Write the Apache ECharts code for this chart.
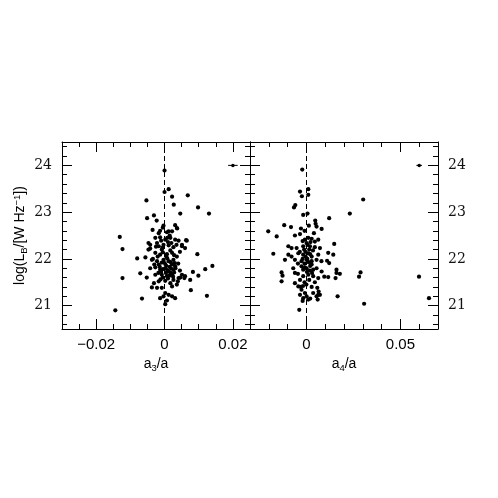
<!DOCTYPE html>
<html>
<head>
<meta charset="utf-8">
<script src="https://cdn.jsdelivr.net/npm/echarts@6/dist/echarts.min.js"></script>
<style>html,body{margin:0;padding:0;background:#fff}#c{width:498px;height:498px}</style>
</head>
<body>
<div id="c"></div>
<script>
// ---- data ----
const a3Ticks = [-0.02, 0, 0.02];
const a3TickLabels = ['\u22120.02', '0', '0.02'];
const a4Ticks = [0, 0.05];
const a4TickLabels = ['0', '0.05'];
const logLTicks = [21, 22, 23, 24];
const logLTickLabels = ['21', '22', '23', '24'];

const a3Range = [-0.03, 0.025];
const a4Range = [-0.03, 0.07];
const logLRange = [20.5, 24.5];

// [a3/a, log L]
const a3Points = [
[0.0000,23.89],[0.0000,23.43],[0.0012,23.49],[0.0022,23.33],[0.0068,23.36],[-0.0053,23.25],[0.0027,23.16],[0.0098,23.10],
[0.0130,22.97],[0.0046,22.97],[-0.0031,22.93],[-0.0051,22.87],[-0.0023,22.82],[-0.0003,22.71],[0.0031,22.72],[0.0037,22.65],
[-0.0035,22.62],[-0.0131,22.47],[-0.0123,22.21],[0.0096,22.10],[-0.0080,22.01],[-0.0056,22.03],[0.0140,21.85],[0.0119,21.78],
[0.0083,21.72],[0.0099,21.64],[-0.0123,21.59],[0.0077,21.33],[0.0124,21.21],[-0.0066,21.15],[0.0002,21.03],[-0.0144,20.90],
[-0.0005,22.67],[0.0036,22.66],[-0.0017,22.55],[0.0007,22.57],[0.0022,22.59],[-0.0013,22.60],[0.0012,22.59],[-0.0027,22.45],
[-0.0013,22.46],[0.0002,22.41],[0.0017,22.45],[0.0031,22.41],[0.0041,22.39],[0.0065,22.39],[-0.0022,22.34],[-0.0047,22.34],
[-0.0042,22.30],[-0.0017,22.27],[-0.0003,22.30],[0.0012,22.29],[0.0026,22.25],[0.0051,22.27],[0.0060,22.23],[-0.0047,22.20],
[-0.0008,22.20],[0.0017,22.18],[-0.0027,22.13],[-0.0013,22.09],[0.0007,22.10],[0.0022,22.13],[0.0036,22.05],
[-0.0037,21.98],[-0.0022,21.95],[-0.0003,21.98],[0.0012,21.95],[0.0026,21.98],[-0.0017,21.88],[0.0002,21.89],[0.0022,21.88],
[-0.0042,21.80],[-0.0027,21.82],[-0.0013,21.77],[0.0002,21.80],[0.0012,21.73],[0.0026,21.77],[0.0031,21.84],[-0.0071,21.69],
[-0.0027,21.66],[-0.0008,21.66],[0.0007,21.63],[0.0022,21.66],[0.0051,21.66],[0.0060,21.63],[-0.0052,21.60],[0.0041,21.59],
[-0.0017,21.52],[0.0002,21.53],[0.0017,21.48],[0.0026,21.55],[0.0075,21.55],[-0.0037,21.39],[-0.0022,21.38],[-0.0008,21.38],
[0.0022,21.41],[0.0036,21.45],[0.0002,21.27],[0.0012,21.23],[-0.0003,21.20],[0.0022,21.20],[0.0031,21.16],[-0.0013,21.16],
[0.0007,21.11],
[0.0005,21.85],[0.0015,21.83],[-0.0008,21.92],[0.0018,21.70],[-0.0010,21.72],[0.0030,21.91],[0.0008,22.01],[-0.0005,21.60],
[0.0025,21.62],[0.0010,22.36],[-0.0010,22.39],[0.0015,22.50],[0.0046,21.60],[0.0063,22.40],[0.0051,22.30],[-0.0042,22.22],
[-0.0031,21.48],[0.0040,21.90],[-0.0020,22.05],[0.0045,22.15],[0.0039,21.52],[0.0058,21.59],
[-0.0005,21.78],[0.0008,21.76],[0.0019,21.79],[-0.0014,21.83],[0.0004,21.70],[0.0014,21.64],[-0.0018,21.70],[0.0028,21.71],
[-0.0002,21.93],[0.0018,21.93],[-0.0030,21.88],[0.0005,22.05],[-0.0005,22.14],[0.0028,22.08],[-0.0034,22.00],[0.0010,21.58],
[-0.0012,21.56],[0.0032,21.80],[0.0045,21.75],[-0.0006,22.24],[0.0020,22.34],[-0.0025,22.26],[0.0035,22.30],[0.0008,22.45]
];

// [a4/a, log L]
const a4Points = [
[-0.0022,23.91],[-0.0034,23.44],[-0.0024,23.34],[0.0010,23.49],[0.0010,23.37],[-0.0059,23.15],[-0.0066,23.10],[0.0302,23.27],
[0.0231,22.97],[-0.0017,22.94],[0.0006,22.97],[0.0121,22.87],[0.0047,22.82],[-0.0118,22.72],[-0.0082,22.68],[-0.0203,22.59],
[-0.0158,22.48],[0.0013,22.71],[0.0054,22.69],[0.0081,22.64],[-0.0029,22.65],[0.0148,22.32],[-0.0176,22.11],[0.0116,22.13],
[0.0143,22.09],[0.0110,21.96],[0.0121,21.91],[0.0160,21.77],[0.0178,21.68],[0.0155,21.59],[0.0116,21.61],[0.0095,21.62],
[-0.0132,21.71],[-0.0127,21.64],[-0.0132,21.52],[0.0288,21.71],[0.0280,21.62],[0.0599,21.62],[0.0166,21.20],[0.0307,21.04],
[0.0652,21.16],[-0.0038,20.91],
[0.0049,22.75],[-0.0061,22.50],[-0.0034,22.53],[-0.0008,22.41],[0.0001,22.34],[0.0010,22.45],[0.0028,22.43],[0.0045,22.37],
[0.0063,22.41],[-0.0096,22.27],[-0.0079,22.23],[-0.0052,22.23],[-0.0017,22.27],[0.0019,22.27],[0.0045,22.25],[0.0072,22.23],
[-0.0096,22.09],[-0.0079,22.05],[-0.0043,22.12],[-0.0017,22.09],[0.0010,22.12],[0.0028,22.05],[0.0063,22.09],[-0.0114,21.98],
[-0.0061,21.98],[-0.0026,21.95],[0.0001,21.98],[0.0028,21.95],[0.0054,21.98],[-0.0070,21.80],[-0.0061,21.70],[-0.0026,21.84],
[-0.0017,21.77],[0.0001,21.80],[0.0028,21.88],[0.0036,21.77],[0.0054,21.80],[0.0081,21.73],[0.0160,21.70],
[-0.0017,21.63],[0.0010,21.66],[0.0036,21.63],[0.0063,21.59],[-0.0034,21.55],[-0.0061,21.48],[-0.0043,21.41],[-0.0026,21.34],
[-0.0008,21.27],[0.0001,21.20],[-0.0034,21.23],[-0.0017,21.16],[0.0036,21.27],[0.0054,21.20],[0.0063,21.23],
[0.0005,22.00],[-0.0010,21.90],[0.0020,21.85],[-0.0005,22.15],[0.0015,22.20],[-0.0020,22.00],[0.0030,21.70],[-0.0010,21.50],
[0.0000,21.45],[0.0045,21.50],[-0.0030,21.40],[-0.0020,21.10],[0.0020,21.15],[0.0065,21.30],[0.0010,21.13],[0.0060,21.13],
[0.0072,21.23],[0.0058,21.38],[-0.0045,21.90],[0.0040,22.55],[-0.0010,22.60],[0.0080,21.95],
[0.0003,21.72],[0.0018,21.75],[-0.0008,21.82],[0.0012,21.93],[-0.0004,22.05],[0.0020,22.10],[-0.0012,22.20],[0.0006,22.30],
[0.0022,22.36],[-0.0020,22.38],[0.0035,22.18],[-0.0035,22.15],[0.0015,21.55],[-0.0018,21.42],[0.0028,21.40],[-0.0045,21.68]
];

// typical error bars: [x, y, half-width in x]
const errorBarA3 = [0.02, 24.0, 0.0014];
const errorBarA4 = [0.06, 24.0, 0.0015];

// ---- helpers ----
function steps(min, max, step, exclude) {
  const out = [];
  const n = Math.round((max - min) / step);
  for (let i = 0; i <= n; i++) {
    const v = +(min + i * step).toFixed(6);
    if (!exclude.some(e => Math.abs(e - v) < 1e-9)) out.push(v);
  }
  return out;
}
function labelFor(ticks, labels) {
  return function (v) {
    const i = ticks.findIndex(t => Math.abs(t - v) < 1e-9);
    return i >= 0 ? labels[i] : '';
  };
}
const INK = '#000';
function axis(kind, gridIndex, position, range, ticks, tickLen, labelOpt, showLine) {
  const a = {
    type: 'value', gridIndex, position, min: range[0], max: range[1],
    splitLine: { show: false },
    axisLine: { show: !!showLine, onZero: false, lineStyle: { color: INK, width: 1 } },
    axisTick: { show: true, inside: true, length: tickLen, customValues: ticks, lineStyle: { color: INK, width: 1 } },
    axisLabel: { show: false },
    axisPointer: { show: false }
  };
  if (labelOpt) a.axisLabel = Object.assign({ show: true, customValues: ticks }, labelOpt);
  return a;
}

const xLabelStyle = { fontFamily: 'Liberation Sans', fontSize: 15, color: '#000', margin: 8 };
const yLabelStyle = { fontFamily: 'DejaVu Serif', fontSize: 14, color: '#111', margin: 10 };
const nameStyle = {
  fontFamily: 'Liberation Sans', fontSize: 14, color: '#000', lineHeight: 17,
  rich: {
    s: { fontFamily: 'Liberation Sans', fontSize: 9.5, color: '#000', verticalAlign: 'bottom', lineHeight: 9 },
    p: { fontFamily: 'Liberation Sans', fontSize: 9.5, color: '#000', verticalAlign: 'top', lineHeight: 9 }
  }
};
const xNameStyle = Object.assign({}, nameStyle, { letterSpacing: 1.5 });

const a3Minor = steps(a3Range[0], a3Range[1], 0.005, a3Ticks);
const a4Minor = steps(a4Range[0], a4Range[1], 0.01, a4Ticks);
const logLMinor = steps(20.6, 24.4, 0.2, logLTicks);

const MAJ = 10, MIN = 5;
const gL = { left: 62, top: 142, width: 188, height: 187 };
const gR = { left: 250, top: 142, width: 188, height: 187 };

const xAxes = [
  Object.assign(axis('x', 0, 'bottom', a3Range, a3Ticks, MAJ,
    Object.assign({ formatter: labelFor(a3Ticks, a3TickLabels) }, xLabelStyle), true),
    { name: 'a{s|3}/a', nameLocation: 'middle', nameGap: 27, nameTextStyle: xNameStyle }),
  axis('x', 0, 'top', a3Range, a3Ticks, MAJ, null, true),
  Object.assign(axis('x', 1, 'bottom', a4Range, a4Ticks, MAJ,
    Object.assign({ formatter: labelFor(a4Ticks, a4TickLabels) }, xLabelStyle), true),
    { name: 'a{s|4}/a', nameLocation: 'middle', nameGap: 27, nameTextStyle: xNameStyle }),
  axis('x', 1, 'top', a4Range, a4Ticks, MAJ, null, true),
  axis('x', 2, 'bottom', a3Range, a3Minor, MIN, null, false),
  axis('x', 2, 'top', a3Range, a3Minor, MIN, null, false),
  axis('x', 3, 'bottom', a4Range, a4Minor, MIN, null, false),
  axis('x', 3, 'top', a4Range, a4Minor, MIN, null, false)
];
const yAxes = [
  Object.assign(axis('y', 0, 'left', logLRange, logLTicks, MAJ,
    Object.assign({ formatter: labelFor(logLTicks, logLTickLabels) }, yLabelStyle), true),
    { name: 'log(L{s|B}/[W Hz{p|\u22121}])', nameLocation: 'middle', nameRotate: 90, nameGap: 33, nameTextStyle: nameStyle }),
  axis('y', 0, 'right', logLRange, logLTicks, MAJ, null, true),
  axis('y', 1, 'left', logLRange, logLTicks, MAJ, null, true),
  axis('y', 1, 'right', logLRange, logLTicks, MAJ,
    Object.assign({ formatter: labelFor(logLTicks, logLTickLabels) }, yLabelStyle), true),
  axis('y', 2, 'left', logLRange, logLMinor, MIN, null, false),
  axis('y', 2, 'right', logLRange, logLMinor, MIN, null, false),
  axis('y', 3, 'left', logLRange, logLMinor, MIN, null, false),
  axis('y', 3, 'right', logLRange, logLMinor, MIN, null, false)
];

function zeroLine() {
  return {
    silent: true, symbol: ['none', 'none'], label: { show: false },
    lineStyle: { type: [5, 3], color: INK, width: 1 },
    emphasis: { disabled: true },
    data: [{ xAxis: 0 }]
  };
}
function errBar(e, xi, yi) {
  return [{
    type: 'line', xAxisIndex: xi, yAxisIndex: yi, showSymbol: false, silent: true,
    lineStyle: { color: INK, width: 1 },
    data: [[e[0] - e[2], e[1]], [e[0] + e[2], e[1]]]
  }, {
    type: 'scatter', xAxisIndex: xi, yAxisIndex: yi, symbolSize: 3.5, silent: true,
    itemStyle: { color: INK, opacity: 1 }, data: [[e[0], e[1]]]
  }];
}

const option = {
  animation: false,
  backgroundColor: '#fff',
  grid: [gL, gR, Object.assign({}, gL), Object.assign({}, gR)],
  xAxis: xAxes,
  yAxis: yAxes,
  series: [
    { type: 'scatter', xAxisIndex: 0, yAxisIndex: 0, symbol: 'circle', symbolSize: 4.2,
      itemStyle: { color: INK, opacity: 1 }, data: a3Points, markLine: zeroLine() },
    { type: 'scatter', xAxisIndex: 2, yAxisIndex: 2, symbol: 'circle', symbolSize: 4.2,
      itemStyle: { color: INK, opacity: 1 }, data: a4Points, markLine: zeroLine() }
  ].concat(errBar(errorBarA3, 0, 0), errBar(errorBarA4, 2, 2))
};

const chart = echarts.init(document.getElementById('c'), null, { renderer: 'canvas' });
chart.setOption(option);
</script>
</body>
</html>
